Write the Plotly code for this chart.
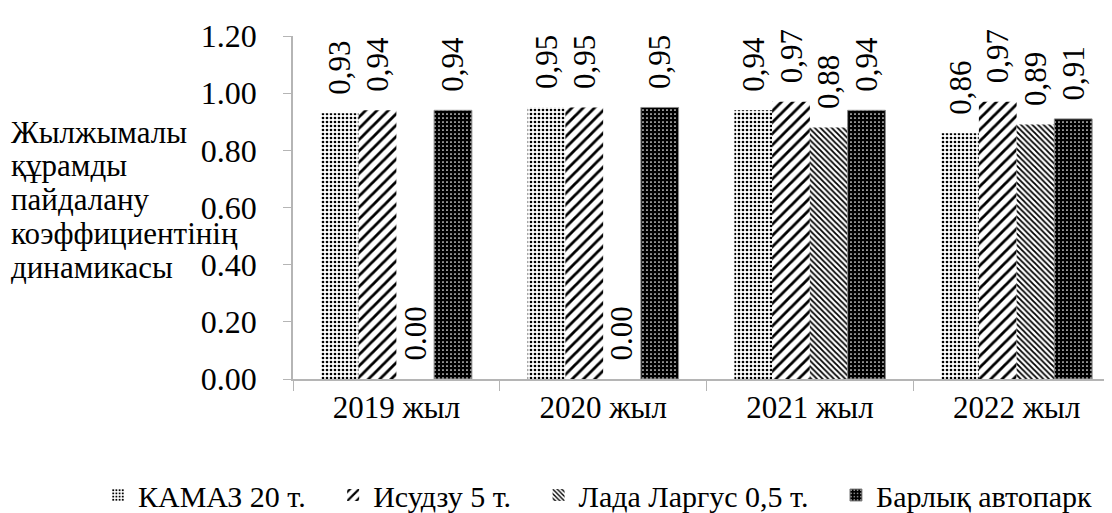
import plotly.graph_objects as go

categories = ["2019 жыл", "2020 жыл", "2021 жыл", "2022 жыл"]
series_names = ["КАМАЗ 20 т.", "Исудзу 5 т.", "Лада Ларгус 0,5 т.", "Барлық автопарк"]
kamaz = [0.93, 0.95, 0.94, 0.86]
isuzu = [0.94, 0.95, 0.97, 0.97]
lada = [0.00, 0.00, 0.88, 0.89]
barlyk = [0.94, 0.95, 0.94, 0.91]
y_ticks = [0.0, 0.2, 0.4, 0.6, 0.8, 1.0, 1.2]
y_title_lines = ["Жылжымалы", "құрамды", "пайдалану", "коэффициентінің", "динамикасы"]

FONT = "Liberation Serif"
NB = "\u00a0"

def labels(vals):
    return [NB * 2 + ("0.00" if v == 0 else f"{v:.2f}".replace(".", ",")) for v in vals]

styles = [
    dict(shape=".", fgcolor="black", bgcolor="white", size=4, solidity=0.35, line=0),
    dict(shape="/", fgcolor="black", bgcolor="white", size=8, solidity=0.35, line=0),
    dict(shape="\\", fgcolor="black", bgcolor="white", size=4, solidity=0.45, line=0),
    dict(shape=".", fgcolor="white", bgcolor="black", size=4, solidity=0.15, line=1),
]

fig = go.Figure()
for name, vals, st in zip(series_names, [kamaz, isuzu, lada, barlyk], styles):
    fig.add_trace(go.Bar(
        name=name + NB * 3, x=categories, y=vals,
        text=labels(vals), textposition="outside", textangle=-90,
        constraintext="none",
        textfont=dict(family=FONT, size=31, color="black"),
        cliponaxis=False,
        marker=dict(
            color=st["bgcolor"],
            line=dict(color="#888888", width=st["line"]),
            pattern=dict(shape=st["shape"], fgcolor=st["fgcolor"], bgcolor=st["bgcolor"],
                         size=st["size"], solidity=st["solidity"], fillmode="replace"),
        ),
    ))

fig.update_layout(
    width=1112, height=513,
    margin=dict(l=285, r=0, t=28, b=135),
    paper_bgcolor="white", plot_bgcolor="white",
    barmode="group", bargap=0.27, bargroupgap=0,
    font=dict(family=FONT, size=28, color="black"),
    showlegend=True,
    legend=dict(orientation="h", x=-0.208, xanchor="left", y=-0.34, yanchor="middle",
                font=dict(family=FONT, size=30, color="black"), itemwidth=30,
                traceorder="normal"),
    xaxis=dict(showline=True, linecolor="#b5b5b5", linewidth=1.5,
               ticks="outside", tickson="boundaries", ticklen=10, tickcolor="#b5b5b5",
               tickfont=dict(family=FONT, size=31, color="black"), showgrid=False),
    yaxis=dict(range=[0, 1.2], tickvals=y_ticks, ticktext=[f"{v:.2f}" for v in y_ticks],
               showline=True, linecolor="#b5b5b5", linewidth=1.5,
               ticks="outside", ticklen=8, tickcolor="#b5b5b5", ticklabelstandoff=20,
               tickfont=dict(family=FONT, size=32, color="black"), showgrid=False,
               zeroline=False),
)

plot_h = 513 - 28 - 135
for i, line in enumerate(y_title_lines):
    center_px = 126 + i * 34.5
    fig.add_annotation(
        text=line, xref="paper", yref="paper",
        x=-0.343, xanchor="left", y=(378 - center_px) / plot_h, yanchor="middle",
        align="left", showarrow=False,
        font=dict(family=FONT, size=31, color="black"),
    )

fig.write_html("out.html")
